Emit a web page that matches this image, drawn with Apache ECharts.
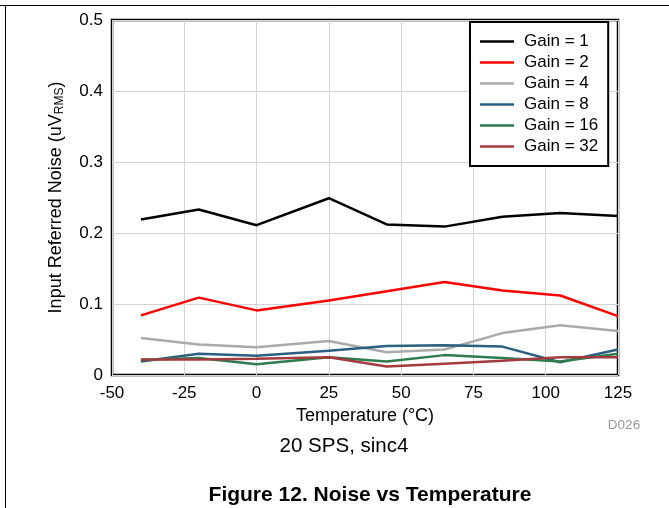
<!DOCTYPE html>
<html>
<head>
<meta charset="utf-8">
<script src="https://cdn.jsdelivr.net/npm/echarts@6/dist/echarts.min.js"></script>
<style>
  html, body { margin: 0; padding: 0; background: #fff; }
  #chart { width: 669px; height: 508px; }
</style>
</head>
<body>
<div id="chart"></div>
<script>
// temperatures (°C) where noise was measured
const temps = [-40, -20, 0, 25, 45, 65, 85, 105, 125];

// input referred noise, uV RMS
const gain1 = [0.219, 0.233, 0.211, 0.249, 0.212, 0.209, 0.223, 0.228, 0.224];
const gain2 = [0.084, 0.109, 0.091, 0.105, 0.118, 0.131, 0.119, 0.112, 0.083];
const gain4 = [0.052, 0.043, 0.039, 0.048, 0.032, 0.036, 0.059, 0.070, 0.062];
const gain8 = [0.019, 0.030, 0.027, 0.034, 0.041, 0.042, 0.040, 0.018, 0.036];
const gain16 = [0.021, 0.024, 0.015, 0.025, 0.019, 0.028, 0.024, 0.019, 0.030];
const gain32 = [0.022, 0.022, 0.023, 0.025, 0.012, 0.016, 0.020, 0.025, 0.025];

const seriesNames = ["Gain = 1", "Gain = 2", "Gain = 4", "Gain = 8", "Gain = 16", "Gain = 32"];
const seriesData = [gain1, gain2, gain4, gain8, gain16, gain32];
const seriesColors = ["#000000", "#ff0000", "#aaaaaa", "#2b6080", "#2e7b4f", "#a33b3e"];

const font = "'Liberation Sans', Arial, sans-serif";

// short line for legend (tiny corner dots keep the box 34x14)
const lineIcon = "path://M0,0L0.01,0L0.01,0.01ZM0,5.8L34,5.8L34,8.2L0,8.2ZM33.99,14L34,14L34,13.99Z";

const chart = echarts.init(document.getElementById("chart"));

const option = {
  animation: false,
  backgroundColor: "#fff",
  textStyle: { fontFamily: font },
  grid: {
    left: 112,
    right: 51,
    top: 20,
    bottom: 133,
    show: true,
    borderColor: "#000",
    borderWidth: 2.5,
  },
  legend: {
    orient: "vertical",
    left: 470,
    top: 22,
    icon: lineIcon,
    itemWidth: 34,
    itemHeight: 14,
    itemGap: 4,
    padding: [11, 10, 11, 10],
    backgroundColor: "#fff",
    borderColor: "#000",
    borderWidth: 2,
    borderRadius: 0,
    textStyle: { fontSize: 17, color: "#000", fontFamily: font, padding: [0, 0, 0, 5] },
    data: seriesNames,
  },
  xAxis: {
    type: "value",
    min: -50,
    max: 125,
    interval: 25,
    name: "Temperature (°C)",
    nameLocation: "middle",
    nameGap: 29,
    nameTextStyle: { fontSize: 18, color: "#000" },
    axisLine: { show: false },
    axisTick: { show: false },
    axisLabel: { fontSize: 17, color: "#000", margin: 10 },
    splitLine: { lineStyle: { color: "#d3d3d3", width: 1 } },
  },
  yAxis: {
    type: "value",
    min: 0,
    max: 0.5,
    interval: 0.1,
    name: "{n|Input Referred Noise (uV}{s|RMS}{n|)}",
    nameLocation: "middle",
    nameGap: 46,
    nameTextStyle: {
      color: "#000",
      rich: {
        n: { fontSize: 18, color: "#000", fontFamily: font },
        s: { fontSize: 12, color: "#000", fontFamily: font, verticalAlign: "bottom", padding: [7, 0, 0, 0] },
      },
    },
    axisLine: { show: false },
    axisTick: { show: false },
    axisLabel: { fontSize: 17, color: "#000", margin: 9 },
    splitLine: { lineStyle: { color: "#d3d3d3", width: 1 } },
  },
  series: seriesNames.map((name, i) => ({
    name: name,
    type: "line",
    symbol: "none",
    color: seriesColors[i],
    lineStyle: { width: 2.5, color: seriesColors[i] },
    data: temps.map((t, j) => [t, seriesData[i][j]]),
  })),
  graphic: [
    // page frame lines
    { type: "line", shape: { x1: 0, y1: 5.5, x2: 669, y2: 5.5 }, style: { stroke: "#000", lineWidth: 1 } },
    { type: "line", shape: { x1: 5.5, y1: 5, x2: 5.5, y2: 508 }, style: { stroke: "#000", lineWidth: 1 } },
    {
      type: "text",
      x: 624,
      y: 425,
      style: { text: "D026", fontSize: 13.5, fill: "#999", fontFamily: font, align: "center", verticalAlign: "middle" },
    },
    {
      type: "text",
      x: 344,
      y: 446,
      style: { text: "20 SPS, sinc4", fontSize: 20.5, fill: "#000", fontFamily: font, align: "center", verticalAlign: "middle" },
    },
    {
      type: "text",
      x: 370,
      y: 495,
      style: { text: "Figure 12. Noise vs Temperature", fontSize: 21, fontWeight: "bold", fill: "#000", fontFamily: font, align: "center", verticalAlign: "middle" },
    },
  ],
};

chart.setOption(option);
</script>
</body>
</html>
